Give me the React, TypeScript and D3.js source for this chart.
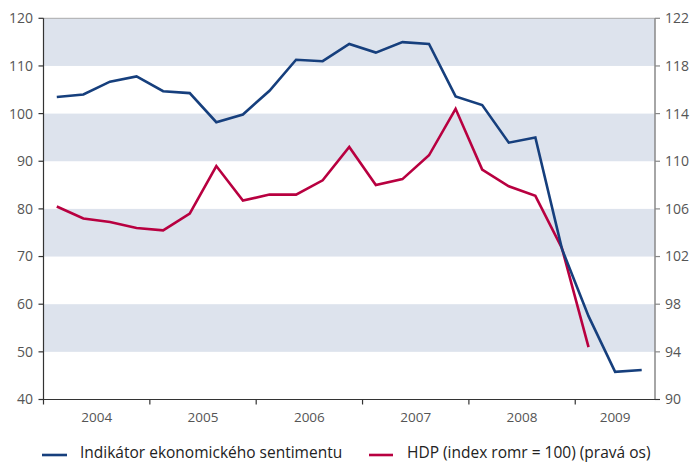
import React from "react";
import * as d3 from "d3";

const years = ["2004", "2005", "2006", "2007", "2008", "2009"];

// Indikátor ekonomického sentimentu, quarterly 2004Q1–2009Q3 (left axis)
const sentiment = [
  103.5, 104.0, 106.7, 107.8, 104.7, 104.3, 98.2, 99.8, 104.8, 111.3, 111.0, 114.6,
  112.8, 115.0, 114.6, 103.6, 101.8, 93.9, 95.0, 71.6, 57.5, 45.8, 46.2,
];

// HDP (index, pravá os), quarterly 2004Q1–2009Q1
const hdp = [
  106.2, 105.2, 104.9, 104.4, 104.2, 105.6, 109.6, 106.7, 107.2, 107.2, 108.4, 111.2,
  108.0, 108.5, 110.5, 114.4, 109.3, 107.9, 107.1, 102.7, 94.4,
];

const leftTicks = [40, 50, 60, 70, 80, 90, 100, 110, 120];
const rightTicks = [90, 94, 98, 102, 106, 110, 114, 118, 122];

const W = 690;
const H = 463;
const font = "'Open Sans', sans-serif";
const BLUE = "#163f7d";
const RED = "#b80040";
const BAND = "#dde3ed";
const TXT = "#555";

export default function App() {
  const nq = sentiment.length;
  const x = d3.scaleLinear().domain([0, nq]).range([43.5, 655]);
  const yL = d3.scaleLinear().domain([40, 120]).range([399.5, 18.3]);
  const yR = d3.scaleLinear().domain([90, 122]).range([399.5, 18.3]);

  const lineL = d3
    .line<number>()
    .x((_, i) => x(i + 0.5))
    .y((d) => yL(d));
  const lineR = d3
    .line<number>()
    .x((_, i) => x(i + 0.5))
    .y((d) => yR(d));

  const bands = [110, 90, 70, 50];

  return (
    <svg width={W} height={H} style={{ position: "absolute", left: 0, top: 0 }} fontFamily={font}>
      <rect x={0} y={0} width={W} height={H} fill="#fff" />
      {bands.map((b) => (
        <rect key={b} x={x(0)} y={yL(b + 10)} width={x(nq) - x(0)} height={yL(b) - yL(b + 10)} fill={BAND} />
      ))}
      <line x1={x(0)} x2={x(nq)} y1={yL(120)} y2={yL(120)} stroke="#aaa" strokeWidth={1} />

      {/* left axis */}
      <line x1={x(0)} x2={x(0)} y1={yL(120)} y2={yL(40) + 5} stroke="#333" strokeWidth={1.2} />
      {leftTicks.map((t) => (
        <g key={t}>
          <line x1={x(0) - 5} x2={x(0)} y1={yL(t)} y2={yL(t)} stroke="#333" strokeWidth={1.2} />
          <text x={33} y={yL(t)} dy="0.35em" textAnchor="end" fontSize={14} fill={TXT}>
            {t}
          </text>
        </g>
      ))}

      {/* right axis */}
      <line x1={x(nq)} x2={x(nq)} y1={yR(122)} y2={yR(90)} stroke="#888" strokeWidth={1.5} />
      {rightTicks.map((t) => (
        <g key={t}>
          <line x1={x(nq)} x2={x(nq) + 5} y1={yR(t)} y2={yR(t)} stroke="#888" strokeWidth={1.2} />
          <text x={665} y={yR(t)} dy="0.35em" textAnchor="start" fontSize={14} fill={TXT}>
            {t}
          </text>
        </g>
      ))}

      {/* bottom axis */}
      <line x1={x(0)} x2={x(nq) + 5} y1={yL(40)} y2={yL(40)} stroke="#333" strokeWidth={1.2} />
      {years.map((yr, k) => {
        const a = k * 4;
        const b = Math.min(a + 4, nq);
        return (
          <g key={yr}>
            {k > 0 && (
              <line x1={x(a)} x2={x(a)} y1={yL(40)} y2={yL(40) + 5} stroke="#333" strokeWidth={1.2} />
            )}
            <text x={(x(a) + x(b)) / 2} y={417} dy="0.35em" textAnchor="middle" fontSize={13.5} fill={TXT}>
              {yr}
            </text>
          </g>
        );
      })}

      <path d={lineR(hdp) ?? ""} fill="none" stroke={RED} strokeWidth={2.6} strokeLinejoin="miter" />
      <path d={lineL(sentiment) ?? ""} fill="none" stroke={BLUE} strokeWidth={2.6} strokeLinejoin="miter" />

      {/* legend */}
      <line x1={42} x2={67} y1={455} y2={455} stroke={BLUE} strokeWidth={2.6} />
      <text x={80} y={452.5} dy="0.35em" fontSize={15.5} fill="#222">
        Indikátor ekonomického sentimentu
      </text>
      <line x1={369} x2={393} y1={455} y2={455} stroke={RED} strokeWidth={2.6} />
      <text x={407} y={452.5} dy="0.35em" fontSize={15.5} fill="#222">
        HDP (index romr = 100) (pravá os)
      </text>
    </svg>
  );
}
